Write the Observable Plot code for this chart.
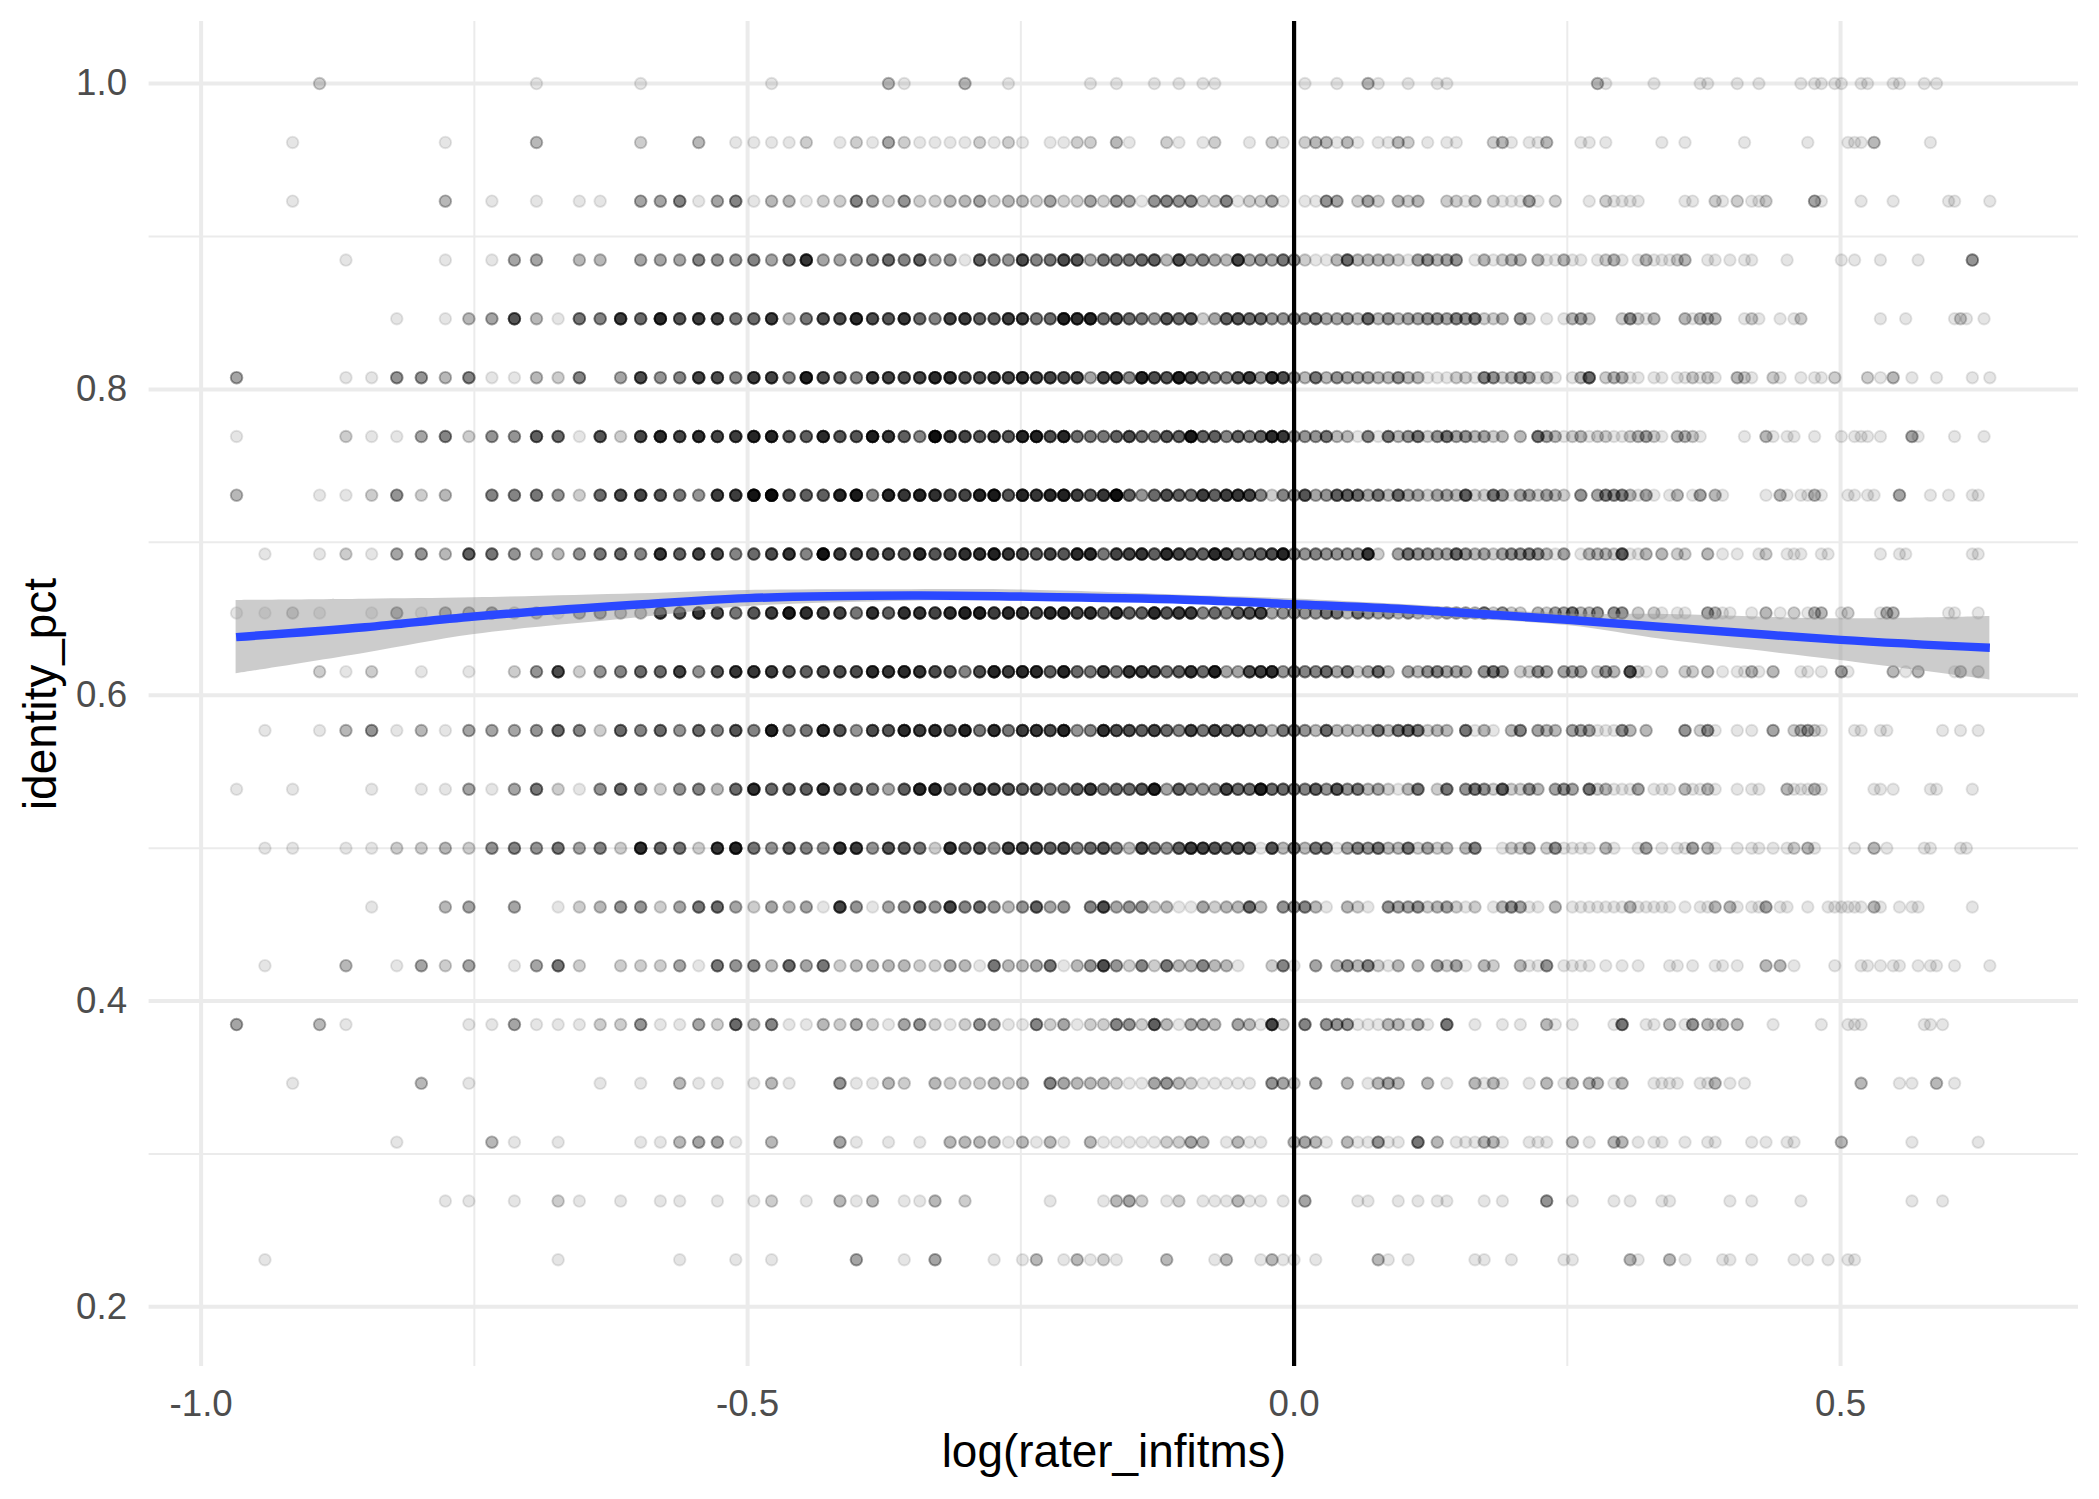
<!DOCTYPE html>
<html>
<head>
<meta charset="utf-8">
<script src="https://cdn.jsdelivr.net/npm/d3@7"></script>
<script src="https://cdn.jsdelivr.net/npm/@observablehq/plot@0.6"></script>
<style>
html,body{margin:0;padding:0;background:#fff}
</style>
</head>
<body>
<div id="chart"></div>
<script>
// Each row: rater_infitms x 100, number of overplotted points.
const r1000=[41,2,50,1,55,1,62,1,69,3,70,1,74,3,77,1,83,1,85,1,88,1,90,1,92,1,93,1,101,1,104,1,107,3,108,1,111,1,114,1,115,1,132,3,133,1,139,1,145,1,146,1,150,1,153,1,159,1,161,1,162,1,164,1,165,1,168,1,169,1,173,1,174,1,178,1,180,1];
const r0962=[40,1,46,1,50,3,55,2,58,3,60,1,61,1,62,1,63,1,64,2,66,1,67,2,68,1,69,4,70,2,71,1,72,1,73,1,74,1,75,2,76,1,77,2,78,1,80,1,81,1,82,2,83,2,85,3,86,1,89,2,90,1,92,1,93,2,96,1,98,2,99,1,101,2,102,3,103,3,104,1,105,3,106,1,108,1,109,1,110,3,111,2,113,1,115,1,116,1,120,2,121,3,122,1,124,1,125,1,126,3,130,1,131,1,133,1,140,1,143,1,151,1,160,1,166,1,167,1,168,1,170,3,179,1];
const r0923=[40,1,46,3,48,1,50,1,52,1,53,1,55,4,56,4,57,6,58,1,59,4,60,6,61,1,62,3,63,3,64,1,65,2,66,2,67,6,68,4,69,2,70,5,71,2,72,2,73,3,74,3,75,4,76,2,77,3,78,3,79,2,80,4,81,2,82,2,83,4,84,2,85,5,86,4,87,1,88,5,89,6,90,5,91,6,92,2,93,2,94,6,95,1,96,2,97,2,98,4,99,1,101,1,102,1,103,5,104,4,106,2,107,4,108,2,110,3,111,2,112,3,115,2,116,2,117,1,118,3,120,2,121,1,122,1,123,1,124,4,125,1,127,2,131,1,133,2,134,1,135,1,136,1,137,1,143,1,144,1,147,2,148,1,150,2,152,1,153,1,154,2,161,4,162,1,168,1,173,1,182,1,183,1,189,1];
const r0885=[42,1,46,1,48,1,49,4,50,4,52,3,53,3,55,4,56,4,57,4,58,6,59,5,60,5,61,6,62,4,63,7,64,14,65,4,66,4,67,5,68,6,69,8,70,6,71,9,72,4,73,5,74,1,75,9,76,6,77,5,78,11,79,6,80,7,81,11,82,10,83,4,84,7,85,7,86,7,87,8,88,9,89,3,90,11,91,5,92,6,93,4,94,3,95,12,96,4,97,5,98,4,99,7,100,5,101,2,102,1,103,1,104,3,105,8,106,3,107,3,108,3,109,3,110,2,111,1,112,4,113,5,114,3,115,4,116,5,118,1,119,3,120,1,121,2,122,3,123,3,125,3,126,1,127,1,128,3,129,1,130,1,132,1,133,2,134,3,135,1,137,1,138,3,139,1,140,1,141,1,142,2,143,3,146,1,147,1,149,1,151,1,152,1,157,1,165,1,167,1,171,1,177,1,186,5];
const r0846=[44,1,46,1,47,3,48,4,49,10,50,3,51,1,52,7,53,6,54,13,55,8,56,16,57,10,58,13,59,12,60,7,61,8,62,13,63,3,64,7,65,11,66,11,67,16,68,11,69,10,70,14,71,8,72,6,73,12,74,13,75,9,76,9,77,13,78,13,79,7,80,8,81,18,82,15,83,17,84,8,85,11,86,8,87,7,88,5,89,10,90,8,91,10,92,2,93,4,94,9,95,10,96,8,97,8,98,5,99,5,100,6,101,5,102,7,103,4,104,4,105,5,106,3,107,8,108,3,109,5,110,3,111,4,112,4,113,5,114,5,115,4,116,6,117,5,118,7,119,2,120,2,121,3,123,5,124,2,126,1,128,1,129,3,130,4,131,2,135,2,136,5,137,2,138,1,139,3,143,3,144,1,145,3,146,3,147,3,151,1,152,2,153,1,156,1,158,1,159,2,171,1,175,1,183,1,184,2,185,1,188,1];
const r0808=[38,4,42,1,43,1,44,5,45,5,46,3,47,6,48,1,49,1,50,3,51,2,52,6,54,4,55,11,56,5,57,6,58,12,59,11,60,6,61,13,62,12,63,6,64,18,65,11,66,9,67,6,68,14,69,12,70,11,71,12,72,16,73,15,74,11,75,11,76,14,77,12,78,15,79,12,80,12,81,11,82,12,83,4,84,12,85,14,86,6,87,17,88,11,89,10,90,18,91,12,92,8,93,6,94,6,95,10,96,13,97,5,98,15,99,11,100,5,101,3,102,7,103,3,104,5,105,4,106,4,107,4,108,3,109,3,110,5,111,3,112,3,113,1,114,1,115,1,116,2,117,2,118,1,119,6,120,5,121,2,122,3,123,5,124,4,125,1,126,3,127,1,129,1,130,3,131,8,133,2,134,3,135,3,136,1,137,1,139,1,140,1,142,1,143,1,144,2,145,1,146,2,147,1,150,3,151,2,152,1,155,2,156,1,159,1,161,1,162,1,164,2,169,2,171,1,173,3,176,1,180,1,186,1,189,1];
const r0769=[38,1,42,2,43,1,44,1,45,4,46,6,47,2,48,5,49,5,50,9,51,8,52,1,53,10,54,2,55,12,56,16,57,12,58,15,59,12,60,13,61,17,62,17,63,10,64,9,65,16,66,10,67,10,68,19,69,14,70,9,71,6,72,24,73,14,74,12,75,10,76,14,77,10,78,17,79,18,80,11,81,17,82,8,83,7,84,7,85,9,86,11,87,8,88,7,89,10,90,9,91,20,92,9,93,9,94,6,95,9,96,7,97,9,98,16,99,14,100,5,101,5,102,5,103,7,104,3,105,3,106,1,107,6,108,1,109,7,110,3,111,5,112,7,113,2,114,5,115,7,116,4,117,5,118,3,119,4,120,2,121,3,123,3,125,7,126,4,127,3,128,1,129,2,130,3,131,1,132,2,133,2,134,1,135,1,136,2,137,3,138,4,139,2,140,1,142,3,143,3,144,2,145,1,151,1,154,3,155,1,157,1,158,1,161,1,165,1,167,1,168,1,169,1,171,1,176,4,177,1,183,1,188,1];
const r0731=[38,3,41,1,42,1,43,2,44,5,45,2,46,3,48,6,49,6,50,7,51,5,52,2,53,8,54,11,55,12,56,10,57,7,58,5,59,13,60,13,61,22,62,25,63,11,64,9,65,9,66,17,67,20,68,6,69,17,70,14,71,17,72,15,73,11,74,12,75,17,76,20,77,10,78,17,79,14,80,16,81,18,82,13,83,10,84,14,85,24,86,9,87,5,88,8,89,11,90,9,91,8,92,13,93,9,94,13,95,14,96,12,97,6,98,2,99,6,100,5,101,10,102,4,103,5,104,9,105,9,106,8,107,4,108,7,109,3,110,8,111,4,112,4,113,2,114,4,115,4,116,3,117,9,118,2,119,2,120,7,121,5,122,1,123,4,124,4,125,2,126,4,127,3,128,2,130,5,132,4,133,6,134,5,135,6,136,3,137,1,138,4,139,1,141,1,142,3,144,1,145,4,147,3,148,1,154,1,156,3,157,1,159,1,160,1,161,3,162,1,166,1,167,1,169,1,170,1,174,4,179,1,182,1,186,1,187,1];
const r0692=[39,1,41,1,42,2,43,1,44,4,45,5,46,3,47,9,48,7,49,5,50,4,51,3,52,5,53,7,54,8,55,6,56,14,57,9,58,12,59,11,60,6,61,8,62,11,63,14,64,6,65,22,66,13,67,12,68,11,69,12,70,10,71,16,72,10,73,12,74,15,75,15,76,18,77,14,78,12,79,10,80,12,81,10,82,16,83,16,84,7,85,12,86,12,87,14,88,9,89,16,90,12,91,10,92,9,93,16,94,13,95,7,96,8,97,9,98,11,99,17,100,6,101,5,102,6,103,5,104,5,105,5,106,5,107,14,108,2,110,4,111,7,112,5,113,5,114,4,115,4,116,8,117,5,118,3,119,4,120,2,121,4,122,5,123,5,124,6,125,5,126,3,127,1,128,4,130,1,131,3,132,3,133,3,134,2,135,9,136,1,137,1,138,3,140,3,142,2,143,2,146,3,148,1,150,1,153,1,154,2,157,1,158,1,159,1,162,1,163,1,171,1,174,1,175,1,186,1,187,1];
const r0654=[38,1,39,1,40,2,41,1,43,1,44,4,45,1,46,4,47,4,48,5,49,2,50,3,51,1,52,4,53,5,54,3,55,3,56,12,57,10,58,14,59,11,60,7,61,10,62,13,63,19,64,15,65,13,66,12,67,7,68,15,69,9,70,15,71,14,72,12,73,15,74,18,75,18,76,13,77,16,78,15,79,12,80,16,81,16,82,12,83,15,84,9,85,15,86,9,87,9,88,16,89,10,90,13,91,13,92,6,93,8,94,6,95,9,96,10,97,12,98,4,99,5,100,5,101,5,102,5,103,7,104,7,105,3,106,7,107,5,108,4,109,5,110,3,111,5,112,3,113,2,114,3,115,4,116,4,117,4,118,3,119,7,120,2,121,5,122,2,123,2,125,3,126,2,127,4,128,4,129,7,130,3,131,3,132,5,134,5,135,5,137,2,139,2,140,1,142,1,143,1,146,4,147,3,148,1,149,1,152,1,154,3,156,1,158,2,160,1,161,3,162,3,165,1,166,2,171,1,172,3,173,3,182,1,183,1,187,1];
const r0615=[41,2,42,1,43,2,45,1,47,1,49,2,50,5,51,11,52,2,53,5,54,6,55,8,56,8,57,12,58,5,59,10,60,14,61,14,62,13,63,11,64,9,65,11,66,11,67,11,68,16,69,14,70,16,71,14,72,11,73,10,74,6,75,11,76,17,77,13,78,16,79,16,80,9,81,17,82,8,83,7,84,13,85,7,86,14,87,13,88,12,89,7,90,9,91,14,92,8,93,18,94,4,95,4,96,11,97,13,98,15,99,5,100,7,101,6,102,6,103,8,104,4,105,7,106,2,107,4,108,8,109,3,111,4,112,3,113,5,114,6,115,4,116,4,117,4,119,5,120,7,121,5,123,2,124,2,125,5,126,4,128,4,129,4,130,4,132,2,133,5,134,3,136,10,137,2,138,1,140,2,143,2,144,2,146,3,148,1,150,1,151,1,152,3,153,1,155,3,159,1,160,1,162,1,165,4,166,1,173,3,175,1,177,3,183,1,184,3,187,2];
const r0577=[39,1,41,1,42,3,43,5,44,1,45,3,46,1,47,4,48,4,49,4,50,5,51,8,52,6,53,2,54,8,55,6,56,8,57,5,58,8,59,6,60,10,61,6,62,17,63,6,64,7,65,16,66,10,67,5,68,11,69,10,70,16,71,13,72,15,73,9,74,17,75,7,76,15,77,7,78,13,79,14,80,11,81,17,82,5,83,6,84,15,85,11,86,11,87,9,88,12,89,8,90,6,91,12,92,7,93,12,94,8,95,10,96,7,97,7,98,3,99,7,100,7,101,5,102,3,103,8,104,3,105,3,106,3,107,3,108,7,109,3,110,7,111,8,112,7,113,2,114,3,115,3,117,7,118,1,119,3,120,1,122,3,123,6,125,4,126,3,127,3,129,4,130,4,131,4,132,1,133,1,134,1,135,5,136,3,138,3,143,5,145,2,146,5,147,1,150,1,152,1,155,4,158,2,159,3,160,4,161,2,162,1,167,1,168,1,171,1,172,1,181,1,184,1,187,1];
const r0538=[38,1,40,1,43,1,45,1,46,1,47,4,48,1,49,4,50,7,51,2,52,1,53,5,54,8,55,6,56,2,57,5,58,6,59,3,60,8,61,15,62,8,63,9,64,9,65,14,66,8,67,8,68,7,69,4,70,9,71,16,72,16,73,7,74,8,75,13,76,12,77,10,78,9,79,10,80,7,81,7,82,9,83,13,84,7,85,8,86,8,87,10,88,18,89,4,90,9,91,6,92,5,93,5,94,12,95,8,96,8,97,18,98,8,99,8,100,7,101,6,102,9,103,5,104,10,105,5,106,7,107,3,108,4,109,2,110,1,111,3,112,7,114,2,115,7,117,5,118,7,119,5,120,2,121,9,122,2,123,2,124,5,125,3,127,4,128,5,129,4,131,7,132,2,133,3,134,1,135,1,136,1,137,4,139,1,140,1,141,1,143,3,144,1,145,1,146,3,147,1,150,1,152,1,153,1,157,3,158,1,159,1,160,1,161,3,162,1,170,1,171,1,173,1,179,1,180,1,186,1];
const r0500=[39,1,40,1,42,1,43,1,44,2,45,2,46,3,47,2,48,5,49,6,50,5,51,7,52,4,53,6,54,2,55,15,56,8,57,7,58,2,59,14,60,17,61,7,62,5,63,9,64,6,65,5,66,14,67,13,68,5,69,10,70,9,71,7,72,2,73,14,74,8,75,10,76,5,77,12,78,12,79,11,80,9,81,11,82,6,83,8,84,10,85,6,86,3,87,11,88,7,89,5,90,9,91,13,92,12,93,10,94,8,95,10,96,9,97,1,98,10,99,3,100,7,101,3,102,7,103,7,104,1,105,4,106,6,107,5,108,7,109,3,110,3,111,7,112,2,113,4,114,2,115,3,117,3,118,6,121,1,122,2,123,2,124,4,126,2,127,5,128,1,129,1,130,1,131,1,133,3,134,1,137,1,138,4,140,1,142,1,143,1,144,4,146,3,147,1,150,1,152,1,153,1,155,1,157,1,158,2,160,3,161,1,167,1,170,3,172,1,178,1,179,1,184,1,185,1];
const r0462=[43,1,46,3,47,4,49,4,51,1,52,2,53,3,54,5,55,5,56,2,57,4,58,7,59,8,60,4,61,2,62,4,63,3,64,4,65,1,66,12,67,5,68,1,69,4,70,5,71,8,72,5,73,12,74,6,75,8,76,5,77,3,78,5,79,9,80,4,81,5,83,6,84,11,85,4,86,5,87,5,88,2,89,3,90,1,91,1,92,4,93,2,94,3,95,3,96,8,97,3,99,5,100,5,101,6,102,3,103,1,105,3,106,2,107,1,109,5,110,4,111,4,112,5,113,2,114,3,115,4,116,2,117,1,118,2,120,1,121,3,122,5,123,4,124,1,125,1,127,3,129,1,130,1,131,1,132,1,133,1,134,1,135,1,136,3,137,1,138,1,139,1,140,1,141,1,143,1,145,1,146,1,147,3,149,3,150,1,152,1,153,1,154,4,156,1,157,1,160,1,163,1,164,1,165,1,166,1,167,1,168,1,170,3,171,1,174,1,176,1,177,1,186,1];
const r0423=[39,1,42,3,44,1,45,4,46,2,47,4,49,1,50,4,51,7,52,2,54,2,55,2,56,2,57,4,58,1,59,7,60,5,61,6,62,3,63,8,64,4,65,7,66,2,67,3,68,3,69,3,70,3,71,2,72,2,73,4,74,3,75,1,76,7,77,3,78,3,79,4,80,7,81,1,82,3,83,5,84,11,85,5,86,2,87,6,88,2,89,7,90,3,91,3,92,6,93,3,94,3,95,1,98,2,99,6,100,1,102,4,104,3,105,5,106,3,107,6,108,2,109,1,110,3,112,3,114,4,115,2,116,4,117,1,119,3,120,2,123,3,124,1,125,1,126,5,128,1,129,1,130,1,131,1,133,1,135,1,137,1,141,1,142,1,144,1,147,1,148,1,150,1,154,3,156,3,158,1,164,1,168,1,169,1,171,1,173,1,174,1,177,1,179,1,180,1,183,1,189,1];
const r0385=[38,4,41,3,42,1,47,1,48,1,49,4,50,1,51,1,52,1,53,2,54,2,55,5,56,1,57,1,58,4,59,2,60,8,61,3,62,6,63,1,64,1,65,3,66,2,67,4,68,2,69,1,70,4,71,5,72,2,73,1,74,2,75,5,76,4,77,1,78,1,79,6,80,2,81,4,82,1,83,2,84,2,85,6,86,5,87,2,88,9,89,3,90,1,91,4,92,4,93,3,95,4,96,3,97,1,98,12,99,2,101,6,103,5,104,5,105,5,106,1,107,1,108,1,109,3,110,3,111,1,112,4,113,1,115,7,118,1,121,1,123,1,126,3,127,1,129,1,134,1,135,7,138,1,139,1,141,3,143,1,144,5,146,3,147,1,148,3,150,3,155,1,162,1,166,1,167,1,168,1,178,1,179,1,181,1];
const r0346=[40,1,45,3,47,1,53,1,55,1,57,3,58,1,59,1,61,1,62,3,63,1,66,5,67,1,68,1,69,3,70,2,72,3,73,2,74,2,75,2,76,3,77,2,78,3,80,6,81,4,82,3,83,3,84,3,85,2,86,1,87,1,88,4,89,5,90,3,91,2,92,1,93,1,94,1,95,1,96,1,98,5,99,4,100,2,102,4,105,3,107,1,108,3,109,4,110,3,113,3,115,1,118,3,119,1,120,3,121,1,124,1,126,3,128,1,129,3,131,3,132,3,134,1,135,3,139,1,140,1,141,1,142,1,145,1,146,1,147,3,149,1,151,1,168,3,174,1,176,1,180,3,183,1];
const r0308=[44,1,48,3,49,1,51,1,55,1,56,1,57,3,58,4,59,4,60,1,62,3,66,4,67,1,69,1,71,1,73,3,74,3,75,3,76,3,77,1,78,3,79,1,80,3,81,1,83,3,84,1,85,1,86,1,87,1,88,1,89,2,90,2,91,4,92,3,94,1,95,3,96,1,97,1,100,3,101,4,102,3,103,1,105,3,106,1,107,1,108,5,109,1,110,1,112,7,114,3,116,1,117,1,118,1,119,3,120,3,121,1,124,1,125,1,126,1,129,3,131,1,134,3,135,3,137,1,139,1,140,1,143,1,146,1,147,1,152,1,154,1,157,1,158,1,165,3,176,1,187,1];
const r0269=[46,1,47,1,49,1,51,2,52,1,54,1,56,1,57,1,59,1,61,1,62,2,64,1,66,3,67,1,68,3,70,1,71,1,72,3,74,2,80,1,84,1,85,3,86,4,87,2,89,1,90,2,92,1,93,1,94,1,95,3,96,1,97,1,99,1,101,4,106,1,107,1,110,1,112,1,114,1,115,1,119,1,121,1,126,5,129,1,134,1,136,1,140,1,141,1,149,1,152,1,159,1,176,1,181,1];
const r0231=[39,1,51,1,57,1,60,1,62,1,67,4,70,1,72,4,76,1,78,1,79,3,81,1,82,3,83,1,84,2,85,1,89,3,93,1,94,3,97,1,98,3,99,1,100,1,102,1,108,3,109,1,111,1,118,1,119,1,122,1,128,1,129,1,136,3,137,1,141,3,143,1,148,1,149,1,152,1,158,1,160,1,163,1,166,1,167,1];

const identityLevels=[1.0,0.9615,0.9231,0.8846,0.8462,0.8077,0.7692,0.7308,0.6923,0.6538,0.6154,0.5769,0.5385,0.5,0.4615,0.4231,0.3846,0.3462,0.3077,0.2692,0.2308];
const levelRows=[r1000,r0962,r0923,r0885,r0846,r0808,r0769,r0731,r0692,r0654,r0615,r0577,r0538,r0500,r0462,r0423,r0385,r0346,r0308,r0269,r0231];

// Smoother
const smoothX=[-0.968,-0.85,-0.75,-0.6,-0.5,-0.35,-0.25,-0.1,0,0.095,0.25,0.34,0.5,0.6366];
const smoothY=[0.638,0.6445,0.6515,0.6593,0.6635,0.6652,0.6645,0.6625,0.6595,0.6565,0.6493,0.6445,0.6362,0.631];
const smoothHi=[0.662,0.6628,0.6637,0.6663,0.6685,0.669,0.6688,0.6654,0.663,0.6595,0.6532,0.6528,0.650,0.6515];
const smoothLo=[0.614,0.6275,0.6397,0.6506,0.658,0.6615,0.6615,0.66,0.6565,0.652,0.6456,0.6362,0.6227,0.610];

const xMajor=[-1,-0.5,0,0.5];
const xMinor=[-0.75,-0.25,0.25];
const yMajor=[0.2,0.4,0.6,0.8,1];
const yMinor=[0.3,0.5,0.7,0.9];
const xTitle=["log(rater_infitms)"];
const yTitle=["identity_pct"];

const points=[];
identityLevels.forEach((level,i)=>{
  const row=levelRows[i];
  for(let j=0;j<row.length;j+=2){
    for(let c=0;c<row[j+1];c++) points.push({x:Math.log(row[j]/100),y:level});
  }
});
const smooth=smoothX.map((x,i)=>({x,y:smoothY[i],hi:smoothHi[i],lo:smoothLo[i]}));

const grid="#ebebeb";
const chart=Plot.plot({
  width:2099,height:1499,
  marginLeft:148.6,marginRight:21,marginTop:21,marginBottom:133,
  style:{fontFamily:"'Liberation Sans',Arial,sans-serif",background:"#fff",overflow:"visible"},
  x:{domain:[-1.0476,0.7177]},
  y:{domain:[0.161,1.0406]},
  marks:[
    Plot.ruleY(yMinor,{stroke:grid,strokeWidth:2}),
    Plot.ruleX(xMinor,{stroke:grid,strokeWidth:2}),
    Plot.ruleY(yMajor,{stroke:grid,strokeWidth:4}),
    Plot.ruleX(xMajor,{stroke:grid,strokeWidth:4}),
    Plot.dot(points,{x:"x",y:"y",r:5.8,fill:"#000",fillOpacity:0.1,stroke:"#000",strokeOpacity:0.1,strokeWidth:1.9}),
    Plot.areaY(smooth,{x:"x",y1:"lo",y2:"hi",fill:"#999",fillOpacity:0.5,curve:"catmull-rom"}),
    Plot.line(smooth,{x:"x",y:"y",stroke:"#2a48ff",strokeWidth:8.5,strokeLinecap:"butt",curve:"catmull-rom"}),
    Plot.ruleX([0],{stroke:"#000",strokeWidth:4.2}),
    Plot.axisX({ticks:xMajor,tickFormat:d=>d.toFixed(1),tickSize:0,tickPadding:23,fontSize:36.7,fill:"#4d4d4d",label:null}),
    Plot.axisY({ticks:yMajor,tickFormat:d=>d.toFixed(1),tickSize:0,tickPadding:22,fontSize:36.7,fill:"#4d4d4d",label:null}),
    Plot.text(xTitle,{frameAnchor:"bottom",dy:86,text:d=>d,fontSize:45.9,fill:"#000",lineAnchor:"middle"}),
    Plot.text(yTitle,{frameAnchor:"left",dx:-107.6,text:d=>d,fontSize:45.9,fill:"#000",lineAnchor:"middle",textAnchor:"middle",rotate:-90})
  ]
});
document.getElementById("chart").appendChild(chart);
</script>
</body>
</html>
